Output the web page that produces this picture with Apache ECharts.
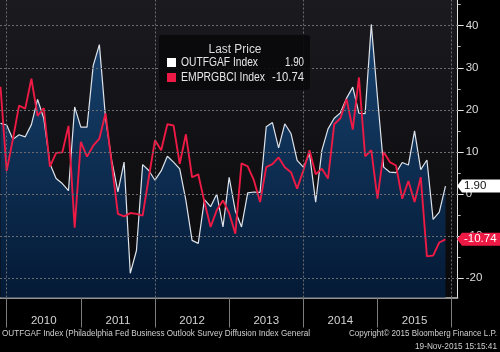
<!DOCTYPE html>
<html><head><meta charset="utf-8">
<script src="https://cdn.jsdelivr.net/npm/echarts@6/dist/echarts.min.js"></script>
<style>html,body{margin:0;padding:0;background:#000;}#c{width:500px;height:352px;}</style>
</head><body><div id="c"></div>
<script>
// Monthly data, first point = Nov 2009 (index 0), last = Nov 2015 (index 72)
const startMonth = '2009-11';
const yearLabels = ['2010', '2011', '2012', '2013', '2014', '2015'];
const yearLabelPos = [7, 19, 31, 43, 55, 67];          // mid-year month index
const yearTickPos = [1, 13, 25, 37, 49, 61, 73];        // year boundaries
const vGridPos = [1, 25, 49, 73];
const yTicks = [-20, -10, 0, 10, 20, 30, 40];
const yMinorTicks = [-15, -5, 5, 15, 25, 35, 45];

const outfgaf = [
  16.8, 16.4, 13.0, 14.1, 13.6, 16.5, 22.5, 18.0, 7.2, 3.7, 2.5, 0.8,
  20.7, 15.9, 15.9, 30.5, 35.5, 18.0, 8.0, 0.5, 7.6, -18.8, -13.4, 7.0,
  5.6, 3.3, 5.5, 9.0, 7.6, 6.0, -1.5, -11.0, -11.7, -1.3, -3.0, 0.0,
  -7.8, 4.0, -4.0, -7.8, 0.3, 0.5, 0.4, 16.0, 17.0, 11.0, 16.7, 14.4,
  8.0, 6.4, 9.6, -1.9, 10.4, 15.5, 18.0, 19.3, 22.8, 25.4, 19.2, 19.1,
  40.3, 23.0, 6.4, 5.2, 5.1, 7.5, 6.9, 15.0, 5.8, 8.1, -6.0, -4.3, 1.9
];
const emprgbci = [
  25.5, 5.5, 13.0, 21.0, 20.3, 27.4, 18.6, 20.4, 6.5, 9.8, 9.9, 16.2,
  -8.0, 12.4, 8.9, 11.5, 13.2, 19.2, 7.2, -4.7, -5.3, -4.5, -4.7, -5.1,
  4.0, 12.8, 10.4, 16.6, 16.3, 7.2, 14.2, 4.0, 4.7, -1.9, -7.8, -3.8,
  -1.5, -4.5, -9.4, 7.3, 6.6, 3.3, -1.9, 6.4, 7.1, 8.7, 6.4, 5.2,
  1.3, 5.6, 10.4, 4.7, 6.0, 3.7, 16.6, 18.0, 22.6, 15.3, 27.7, 9.0,
  10.4, -1.1, 10.0, 7.6, 6.8, -1.1, 3.1, -1.9, 4.0, -14.8, -14.6, -11.5, -10.74
];
const seriesNames = ['OUTFGAF Index', 'EMPRGBCI Index'];
const lastValues = [1.90, -10.74];

const FONT = '"Liberation Sans", Arial, sans-serif';
const chart = echarts.init(document.getElementById('c'), null, {renderer: 'canvas'});

const toPairs = arr => arr.map((v, i) => [i, v]);

const option = {
  animation: false,
  backgroundColor: '#000',
  grid: {
    left: 0, right: 42.3, top: 0, bottom: 54.5, show: true, borderWidth: 0,
    backgroundColor: new echarts.graphic.LinearGradient(0, 0, 0, 1, [
      {offset: 0, color: '#1a1a1f'}, {offset: 1, color: '#09090b'}
    ])
  },
  xAxis: {
    type: 'value', min: -0.08, max: 73.98,
    axisLine: {show: true, onZero: false, lineStyle: {color: '#c4c4c4', width: 1.5}},
    axisTick: {show: true, customValues: yearTickPos, length: 30, lineStyle: {color: '#7c7c7c'}},
    axisLabel: {
      customValues: yearLabelPos, color: '#d4d4d4', fontSize: 11.5, margin: 17, fontFamily: FONT,
      formatter: v => yearLabels[Math.round((v - 7) / 12)]
    },
    splitLine: {show: false}
  },
  yAxis: [{
    type: 'value', position: 'right', min: -24.56, max: 46.1,
    axisLine: {show: true, onZero: false, lineStyle: {color: '#e6e6e6'}},
    axisTick: {show: true, customValues: yTicks, length: 6, lineStyle: {color: '#e6e6e6'}},
    axisLabel: {customValues: yTicks, color: '#dcdcdc', fontSize: 11.5, margin: 8, fontFamily: FONT},
    splitLine: {show: false}
  }, {
    type: 'value', position: 'right', min: -24.56, max: 46.1,
    axisLine: {show: false, onZero: false},
    axisTick: {show: true, customValues: yMinorTicks, length: 3, lineStyle: {color: '#bdbdbd'}},
    axisLabel: {show: false},
    splitLine: {show: false}
  }],
  series: [{
    name: seriesNames[0], type: 'line', data: toPairs(outfgaf), symbol: 'none', z: 2,
    lineStyle: {color: '#dfe3ea', width: 1.2},
    areaStyle: {
      origin: 'start', opacity: 1,
      color: new echarts.graphic.LinearGradient(0, 0, 0, 1, [
        {offset: 0, color: '#18436f'}, {offset: 1, color: '#041a36'}
      ])
    },
    markLine: {
      silent: true, symbol: ['none', 'none'], label: {show: false},
      lineStyle: {color: '#6c6c70', type: [2, 2], width: 1},
      data: yTicks.map(v => ({yAxis: v})).concat(vGridPos.map(v => ({xAxis: v})))
    }
  }, {
    name: seriesNames[1], type: 'line', data: toPairs(emprgbci), symbol: 'none', z: 4,
    lineStyle: {color: '#ec1a44', width: 1.9}
  }]
};
chart.setOption(option);

// measure text so condensed-looking texts fit their widths
const ctx = document.createElement('canvas').getContext('2d');
function fitScale(text, size, width) {
  ctx.font = size + 'px "Liberation Sans"';
  return width / ctx.measureText(text).width;
}
function fitText(text, x, y, size, width, align, color, z) {
  return {
    type: 'text', z: z || 91, x: x, y: y, scaleX: fitScale(text, size, width),
    style: {text: text, fill: color, font: size + 'px "Liberation Sans"', textAlign: align, textVerticalAlign: 'middle'}
  };
}
const foot1 = 'OUTFGAF Index (Philadelphia Fed Business Outlook Survey Diffusion Index General';
const foot2 = 'Copyright\u00A9 2015 Bloomberg Finance L.P.';
const foot3 = '19-Nov-2015 15:15:41';

const yOut = chart.convertToPixel({yAxisIndex: 0}, lastValues[0]);
const yEmp = chart.convertToPixel({yAxisIndex: 0}, lastValues[1]);
function tag(yc, fill, textColor, label) {
  const h = 13;
  return [{
    type: 'polygon', z: 100,
    shape: {points: [[457, yc], [462, yc - h / 2], [500, yc - h / 2], [500, yc + h / 2], [462, yc + h / 2]]},
    style: {fill: fill}
  }, {
    type: 'text', z: 101, x: 464, y: yc,
    style: {text: label, fill: textColor, font: '11.5px ' + FONT, textVerticalAlign: 'middle', textAlign: 'left'}
  }];
}

chart.setOption({
  graphic: [
    {type: 'rect', z: 90, shape: {x: 159, y: 35, width: 151, height: 55, r: 3}, style: {fill: 'rgba(9,9,11,0.9)'}},
    fitText('Last Price', 235, 50, 12, 53, 'center', '#dcdcdc'),
    {type: 'rect', z: 91, shape: {x: 167, y: 58, width: 9, height: 9}, style: {fill: '#ffffff'}},
    {type: 'rect', z: 91, shape: {x: 167, y: 73, width: 9, height: 9}, style: {fill: '#ec1a44'}},
    fitText(seriesNames[0], 181, 63, 12, 77, 'left', '#e6e6e6'),
    fitText(seriesNames[1], 181, 78, 12, 84, 'left', '#e6e6e6'),
    fitText(lastValues[0].toFixed(2), 304, 63, 12, 19, 'right', '#e6e6e6'),
    fitText(lastValues[1].toFixed(2), 304, 78, 12, 32, 'right', '#e6e6e6'),
    ...tag(yOut, '#ffffff', '#111111', lastValues[0].toFixed(2)),
    ...tag(yEmp, '#ec1a44', '#ffffff', lastValues[1].toFixed(2)),
    fitText(foot1, 2, 334, 9, 308, 'left', '#d0d0d0'),
    fitText(foot2, 497, 334, 9, 148, 'right', '#d0d0d0'),
    fitText(foot3, 497, 347, 9, 82, 'right', '#d0d0d0')
  ]
});
</script>
</body></html>
